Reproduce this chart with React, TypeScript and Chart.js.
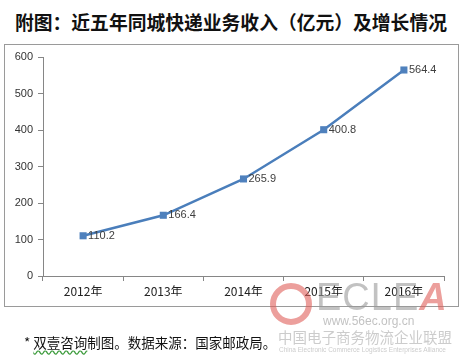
import React, { useEffect, useRef } from "react";
import { Chart, registerables } from "chart.js";

Chart.register(...registerables);

const categories = ["2012年", "2013年", "2014年", "2015年", "2016年"];
const revenue = [110.2, 166.4, 265.9, 400.8, 564.4];
const yMin = 0;
const yMax = 600;
const yStep = 100;

const FONT = "'Liberation Sans', Arial, sans-serif";
const CJK = "'Noto Sans CJK SC', 'Noto Sans', sans-serif";

const dataLabelPlugin = {
  id: "dataLabels",
  afterDatasetsDraw(chart: any) {
    const ctx = chart.ctx;
    const meta = chart.getDatasetMeta(0);
    ctx.save();
    ctx.font = "11px " + FONT;
    ctx.fillStyle = "#404040";
    ctx.textAlign = "left";
    ctx.textBaseline = "middle";
    meta.data.forEach((pt: any, i: number) => {
      ctx.fillText(String(revenue[i]), pt.x + 5, pt.y);
    });
    ctx.restore();
  },
};

export default function App() {
  const ref = useRef<HTMLCanvasElement | null>(null);
  useEffect(() => {
    if (!ref.current) return;
    const chart = new Chart(ref.current, {
      type: "line",
      data: {
        labels: categories,
        datasets: [
          {
            data: revenue,
            borderColor: "#4A7EBB",
            backgroundColor: "#4A7EBB",
            borderWidth: 2.5,
            pointStyle: "rect",
            pointRadius: 5,
            pointHoverRadius: 5,
            pointBackgroundColor: "#4F81BD",
            pointBorderColor: "#4F81BD",
            pointBorderWidth: 0,
            tension: 0,
          },
        ],
      },
      options: {
        animation: false,
        responsive: false,
        maintainAspectRatio: false,
        events: [],
        layout: { padding: { left: 0, top: 57, right: 24, bottom: 59 } },
        plugins: { legend: { display: false }, tooltip: { enabled: false } },
        scales: {
          x: {
            type: "category",
            offset: true,
            grid: {
              offset: true,
              drawOnChartArea: false,
              drawTicks: true,
              tickLength: 5,
              color: "#868686",
            },
            border: { display: true, color: "#868686", width: 1 },
            ticks: {
              color: "#222",
              font: { size: 12, family: CJK },
              padding: 3,
              maxRotation: 0,
            },
            afterFit: (s: any) => {
              s.height = 20;
            },
          },
          y: {
            min: yMin,
            max: yMax,
            ticks: {
              stepSize: yStep,
              color: "#333",
              font: { size: 11, family: FONT },
              padding: 5,
            },
            grid: {
              drawOnChartArea: false,
              drawTicks: true,
              tickLength: 5,
              color: "#868686",
            },
            border: { display: true, color: "#868686", width: 1 },
            afterFit: (s: any) => {
              s.width = 43;
            },
          },
        },
      },
      plugins: [dataLabelPlugin],
    } as any);
    return () => chart.destroy();
  }, []);

  return (
    <div
      style={{
        position: "absolute",
        left: 0,
        top: 0,
        width: 468,
        height: 355,
        background: "#fff",
        overflow: "hidden",
        fontFamily: CJK,
      }}
    >
      <style>{"body{margin:0}"}</style>
      <div
        style={{
          position: "absolute",
          left: 15,
          top: 8,
          fontSize: 18.8,
          fontWeight: 700,
          lineHeight: "28px",
          color: "#111",
          whiteSpace: "nowrap",
        }}
      >
        附图：近五年同城快递业务收入（亿元）及增长情况
      </div>
      <div
        style={{
          position: "absolute",
          left: 4,
          top: 44,
          width: 453,
          height: 261,
          border: "1px solid #9a9a9a",
        }}
      />
      <canvas
        ref={ref}
        width={468}
        height={355}
        style={{ position: "absolute", left: 0, top: 0, width: 468, height: 355 }}
      />
      {/* watermark */}
      <div style={{ position: "absolute", left: 0, top: 0, width: 468, height: 355, pointerEvents: "none", opacity: 0.6 }}>
        <div
          style={{
            position: "absolute",
            left: 270,
            top: 283,
            width: 42,
            height: 42,
            borderRadius: "50%",
            border: "6px solid #e0605a",
            boxSizing: "border-box",
          }}
        />
        <div
          style={{
            position: "absolute",
            left: 316,
            top: 276,
            fontSize: 38,
            fontFamily: FONT,
            color: "#9a9a9a",
            lineHeight: "42px",
            letterSpacing: 1,
          }}
        >
          ECLE<span style={{ color: "#e0605a", fontStyle: "italic", fontWeight: 700 }}>A</span>
        </div>
        <div style={{ position: "absolute", left: 323, top: 314, fontSize: 12, fontFamily: FONT, color: "#999", lineHeight: "14px" }}>
          www.56ec.org.cn
        </div>
        <div style={{ position: "absolute", left: 278, top: 327, fontSize: 14.5, color: "#aaa", lineHeight: "20px", whiteSpace: "nowrap" }}>
          中国电子商务物流企业联盟
        </div>
        <div style={{ position: "absolute", left: 279, top: 346, fontSize: 6.5, fontFamily: FONT, color: "#aaa", lineHeight: "8px", whiteSpace: "nowrap" }}>
          China Electronic Commerce Logistics Enterprises Alliance
        </div>
      </div>
      <div
        style={{
          position: "absolute",
          left: 24,
          top: 332,
          fontSize: 13.5,
          color: "#111",
          lineHeight: "20px",
          whiteSpace: "nowrap",
        }}
      >
        *{" "}
        <span style={{ textDecoration: "underline wavy #3a9a3a", textUnderlineOffset: 2 }}>双壹咨询</span>
        制图。数据来源：国家邮政局。
      </div>
    </div>
  );
}
